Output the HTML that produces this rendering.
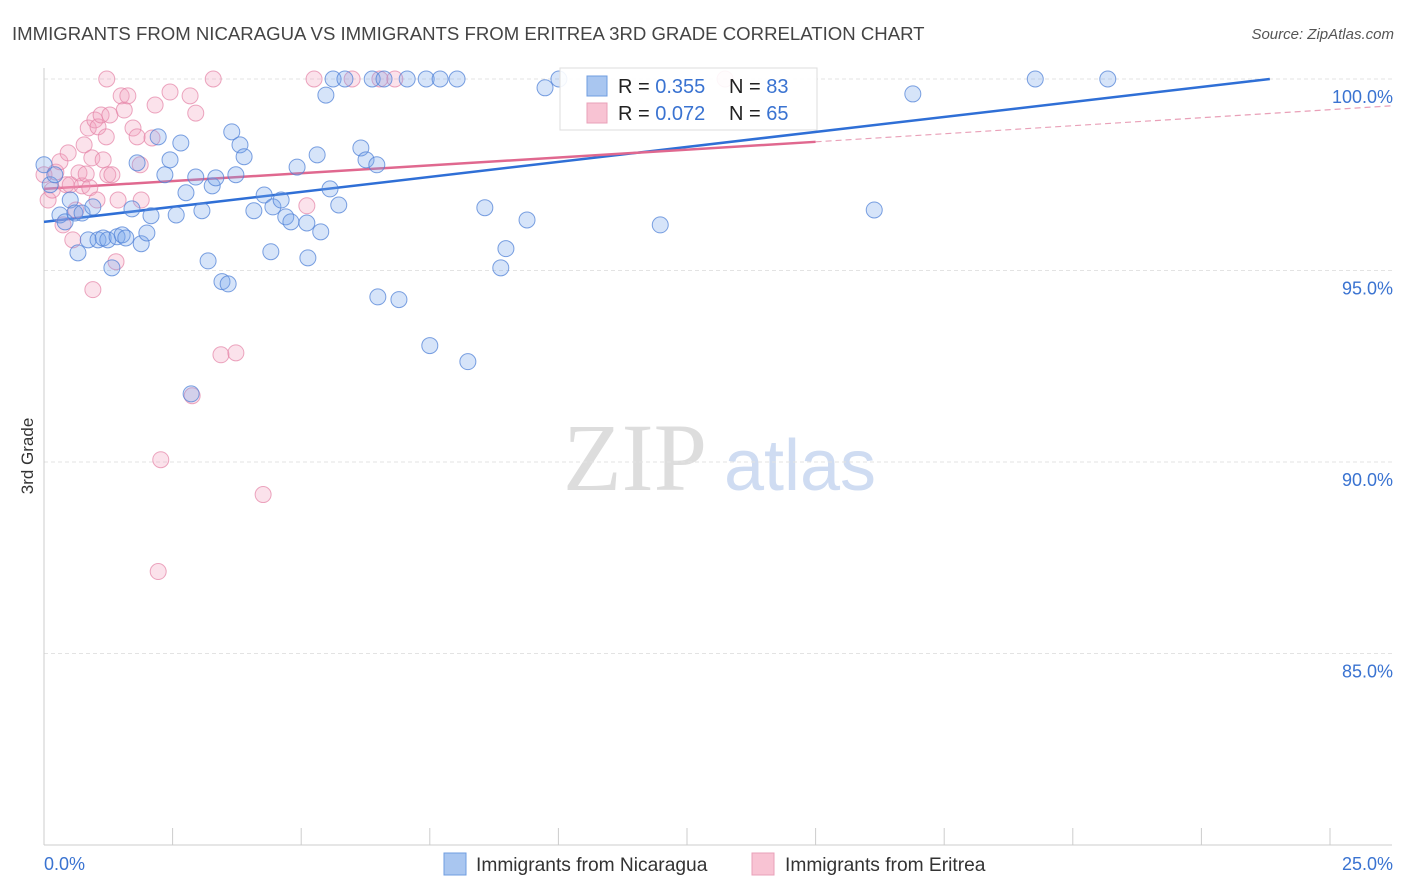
<!DOCTYPE html>
<html><head><meta charset="utf-8">
<style>
body{margin:0;background:#fff;font-family:"Liberation Sans",sans-serif;}
svg{display:block}
</style></head>
<body>
<svg id="chart" width="1406" height="892">
<text x="12" y="40" font-size="18.6" fill="#444">IMMIGRANTS FROM NICARAGUA VS IMMIGRANTS FROM ERITREA 3RD GRADE CORRELATION CHART</text>
<text x="1394" y="39" font-size="15" fill="#555" text-anchor="end" font-style="italic">Source: ZipAtlas.com</text>
<text x="33" y="456" font-size="17" fill="#333" text-anchor="middle" transform="rotate(-90 33 456)">3rd Grade</text>
<g>
<text x="635" y="490" font-size="96" fill="#ddd" font-family="Liberation Serif,serif" text-anchor="middle">ZIP</text>
<text x="800" y="490" font-size="72" fill="#cfdcf2" text-anchor="middle">atlas</text>
</g>
<g id="grid"></g>
<g id="lines"></g>
<g id="pts"></g>
<g>
<rect x="560" y="68" width="257" height="62" fill="#fff" fill-opacity="0.9" stroke="#ddd"/>
<rect x="587" y="76" width="20" height="20" fill="#a9c6f0" stroke="#6f9de0"/>
<rect x="587" y="103" width="20" height="20" fill="#f8c3d3" stroke="#e9a0b8"/>
<text x="618" y="93" font-size="20" fill="#222">R = <tspan fill="#3a73d1">0.355</tspan><tspan x="729">N = </tspan><tspan fill="#3a73d1">83</tspan></text>
<text x="618" y="120" font-size="20" fill="#222">R = <tspan fill="#3a73d1">0.072</tspan><tspan x="729">N = </tspan><tspan fill="#3a73d1">65</tspan></text>
</g>
<g>
<rect x="444" y="853" width="22" height="22" fill="#a9c6f0" stroke="#6f9de0"/>
<text x="476" y="871" font-size="19.2" fill="#333">Immigrants from Nicaragua</text>
<rect x="752" y="853" width="22" height="22" fill="#f8c3d3" stroke="#e9a0b8"/>
<text x="785" y="871" font-size="19.2" fill="#333">Immigrants from Eritrea</text>
</g>
</svg>
<script>
const yTicks=[100,95,90,85];
const xTickLabels=["0.0%","25.0%"];
const blueX=[0,0.12,0.21,0.31,0.41,0.51,0.60,0.66,0.74,0.86,0.95,1.05,1.15,1.24,1.32,1.42,1.52,1.59,1.71,1.81,1.89,2.00,2.08,2.22,2.35,2.45,2.57,2.66,2.76,2.95,3.07,3.19,3.27,3.34,3.46,3.58,3.65,3.73,3.81,3.89,4.08,4.28,4.41,4.45,4.61,4.70,4.80,4.92,5.11,5.13,5.31,5.38,5.48,5.56,5.62,5.73,5.85,6.16,6.26,6.38,6.47,6.49,6.61,6.90,7.06,7.43,7.50,7.70,8.03,8.24,8.57,8.88,8.98,9.39,9.74,10.01,11.98,16.14,16.89,19.27,20.68,2.86];
const blueY=[97.76,97.24,97.50,96.45,96.27,96.84,96.50,95.46,96.50,95.80,96.66,95.80,95.85,95.80,95.07,95.88,95.93,95.85,96.61,97.81,95.70,95.98,96.43,98.49,97.50,97.89,96.45,98.33,97.03,97.44,96.56,95.25,97.21,97.42,94.71,94.65,98.62,97.50,98.28,97.97,96.56,96.97,95.49,96.66,96.84,96.40,96.27,97.70,96.24,95.33,98.02,96.01,99.58,97.13,100,96.71,100,98.20,97.89,100,97.76,94.31,100,94.24,100,100,93.04,100,100,92.62,96.64,95.07,95.57,96.32,99.77,100,96.19,96.58,99.61,100,100,91.78];
const pinkX=[0,0.08,0.16,0.23,0.31,0.37,0.43,0.47,0.51,0.56,0.62,0.68,0.74,0.78,0.82,0.86,0.89,0.93,0.95,0.99,1.03,1.05,1.11,1.15,1.21,1.24,1.28,1.32,1.40,1.44,1.50,1.56,1.63,1.73,1.81,1.87,1.89,2.10,2.16,2.22,2.27,2.45,2.84,2.88,2.95,3.29,3.44,3.73,4.26,5.11,5.25,5.99,6.53,6.82,13.24,1.22];
const pinkY=[97.50,96.84,97.10,97.57,97.84,96.19,97.24,98.07,97.24,95.80,96.58,97.55,97.21,98.28,97.52,98.72,97.16,97.94,94.50,98.93,96.84,98.75,99.06,97.89,98.49,97.50,99.06,97.50,95.23,96.84,99.56,99.19,99.56,98.72,98.49,97.76,96.84,98.46,99.32,87.14,90.06,99.66,99.56,91.73,99.11,100,92.80,92.85,89.15,96.69,100,100,100,100,100,100];
const blueFit=[96.27,100];const blueFitX=[0,23.83];
const pinkFit=[97.13,98.36,99.2];const pinkFitX=[0,15,25];
const NS="http://www.w3.org/2000/svg";
const X0=44,X1=1330,Y100=79,Y80=845;
const sx=v=>X0+(X1-X0)*v/25;
const sy=v=>Y100+(100-v)*(Y80-Y100)/20;
function mk(t,a,p){const e=document.createElementNS(NS,t);for(const k in a)e.setAttribute(k,a[k]);p.appendChild(e);return e;}
const g=document.getElementById('grid');
yTicks.forEach(t=>{
 const l=mk('line',{x1:X0,x2:1392,y1:sy(t),y2:sy(t),stroke:'#e3e3e3','stroke-dasharray':'4,3'},g);
 
 
 const tx=mk('text',{x:1393,y:sy(t)+24,'font-size':18,fill:'#3a73d1','text-anchor':'end'},g);
 tx.textContent=t.toFixed(1)+'%';
 
 
});
const ax=mk('line',{x1:X0,x2:X0,y1:68,y2:Y80,stroke:'#ccc'},g);


const bx=mk('line',{x1:X0,x2:1392,y1:Y80,y2:Y80,stroke:'#ccc'},g);


for(let i=1;i<=10;i++){const t=mk('line',{x1:sx(i*2.5),x2:sx(i*2.5),y1:828,y2:Y80,stroke:'#ccc'},g);
 
 }
const xl0=mk('text',{x:X0,y:870,'font-size':18,fill:'#3a73d1'},g);xl0.textContent=xTickLabels[0];


const xl1=mk('text',{x:1393,y:870,'font-size':18,fill:'#3a73d1','text-anchor':'end'},g);xl1.textContent=xTickLabels[1];


const P=document.getElementById('pts');
function dots(xs,ys,fill,stroke,name){xs.forEach((x,i)=>{const c=mk('circle',{cx:sx(x),cy:sy(ys[i]),r:8,fill:fill,stroke:stroke,'stroke-width':1},P);
 
 });}
dots(pinkX,pinkY,'rgba(242,160,190,0.3)','rgba(228,130,165,0.7)','point-eritrea');
dots(blueX,blueY,'rgba(120,165,235,0.3)','rgba(80,130,215,0.75)','point-nicaragua');
const L=document.getElementById('lines');
const bl=mk('line',{x1:sx(blueFitX[0]),y1:sy(blueFit[0]),x2:sx(blueFitX[1]),y2:sy(blueFit[1]),stroke:'#2f6fd6','stroke-width':2.5},L);


const pl=mk('line',{x1:sx(pinkFitX[0]),y1:sy(pinkFit[0]),x2:sx(pinkFitX[1]),y2:sy(pinkFit[1]),stroke:'#e0688f','stroke-width':2.5},L);


const pd=mk('line',{x1:sx(pinkFitX[1]),y1:sy(pinkFit[1]),x2:1392,y2:sy(pinkFit[1]+(pinkFit[2]-pinkFit[1])*(1392-sx(pinkFitX[1]))/(sx(pinkFitX[2])-sx(pinkFitX[1]))),stroke:'#e9a0b8','stroke-width':1.2,'stroke-dasharray':'6,4'},L);


</script>
</body></html>
